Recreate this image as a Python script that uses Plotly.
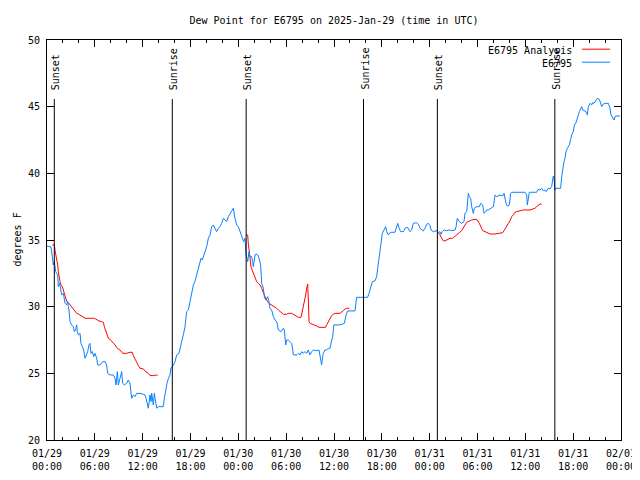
import pandas as pd
import plotly.graph_objects as go

START = pd.Timestamp("2025-01-29 00:00")

# ---- Observed dew point (E6795), hours since 2025-01-29 00:00 UTC ----
blue_hours = [
    0.00, 0.50, 0.67, 0.79, 0.92, 1.09, 1.34, 1.42, 1.59, 1.71, 1.84, 2.05, 2.13, 2.26, 2.47, 2.59, 2.68, 2.76,
    2.89, 3.09, 3.30, 3.43, 3.60, 3.72, 3.80, 3.93, 4.14, 4.26, 4.43, 4.60, 4.77, 4.93, 5.10, 5.27, 5.39, 5.52,
    5.69, 5.85, 6.02, 6.23, 6.36, 6.65, 6.86, 6.98, 7.28, 7.48, 7.61, 7.90, 8.32, 8.53, 8.66, 8.74, 8.82, 8.95,
    9.16, 9.37, 9.49, 9.70, 9.99, 10.20, 10.41, 10.54, 10.62, 10.83, 11.04, 11.25, 11.67, 12.08, 12.29, 12.42,
    12.63, 12.71, 12.92, 13.05, 13.13, 13.34, 13.46, 13.63, 13.76, 13.97, 14.59, 14.72, 14.89,
    15.05, 15.22, 15.43, 15.55, 15.85, 16.06, 16.27, 16.56, 16.68, 16.89, 17.10, 17.31, 17.52, 17.73, 17.94,
    18.15, 18.36, 18.56, 18.77, 18.90, 19.19, 19.32, 19.48, 19.61, 19.82, 20.03, 20.24, 20.45, 20.66, 20.86,
    21.07, 21.28, 21.49, 21.70, 21.91, 22.12, 22.33, 22.54, 22.75, 22.96, 23.17, 23.37, 23.58, 23.79, 24.00,
    24.21, 24.42, 24.54, 24.67, 24.84, 24.92,
    24.96, 25.17, 25.34, 25.46, 25.67, 25.80, 25.88, 26.01, 26.09, 26.22, 26.43, 26.59, 26.80, 26.93, 27.14,
    27.26, 27.43, 27.68, 27.85, 27.97, 28.18, 28.39, 28.60, 28.81, 29.02, 29.35, 29.65, 29.77, 29.85, 29.94,
    30.06, 30.27, 30.48, 30.69, 30.82, 30.90, 31.32, 31.53, 31.74, 31.95, 32.15, 32.36, 32.57, 32.78, 32.99,
    33.20, 33.41, 33.83, 34.12, 34.24, 34.37, 34.45, 34.58, 34.66, 34.87, 35.08, 35.29, 35.50, 35.71, 35.84,
    35.97, 36.34, 36.75, 37.30, 37.51, 37.72, 38.63,
    38.84, 40.22, 40.39, 40.60, 40.81, 41.14, 41.35, 41.48, 41.65, 41.77, 41.90, 42.06, 42.31, 42.48, 42.61,
    42.82, 43.03, 43.24, 43.65, 43.86, 43.99, 44.15, 44.36, 44.70, 44.99, 45.24, 45.53, 45.74, 45.95, 46.37,
    46.58, 46.79, 46.99, 47.20, 47.42, 47.63, 47.83,
    48.04, 48.17, 48.46, 48.88, 49.09, 49.30, 49.42, 49.59, 49.80, 50.13, 50.47, 50.76, 51.18, 51.31, 51.47,
    51.72, 52.01, 52.31, 52.43, 52.64, 52.73, 52.85, 52.98, 53.14, 53.27, 53.48, 53.60, 53.90, 54.23, 54.40,
    54.65, 54.82, 55.03, 55.15, 55.36, 55.78, 55.99, 56.20, 56.41, 56.83, 57.16, 57.33, 57.45, 57.58, 57.74,
    57.99, 58.16, 58.29, 59.96, 60.17, 60.25, 60.38, 60.50, 61.42, 61.63,
    61.84, 62.05, 62.26, 62.47, 62.59, 62.76, 62.89, 63.10, 63.30, 63.43, 63.51, 63.64, 63.72, 63.85, 64.43,
    64.56, 64.68, 64.85, 64.98, 65.10, 65.27, 65.52, 65.69, 65.81, 66.02, 66.15, 66.36, 66.52, 66.65, 66.78,
    66.94, 67.07, 67.19, 67.36, 67.61, 67.78, 67.90, 68.03, 68.11, 68.32, 68.45, 68.61, 68.86, 69.03, 69.29,
    69.45, 69.58, 69.79, 70.00, 70.42, 70.62, 70.75, 70.96, 71.13, 71.25, 71.38, 71.88,
]
blue_dewpoint = [
    34.55, 34.48, 33.75, 33.13, 33.38, 32.63, 32.38, 31.50, 31.75, 31.38, 30.88, 31.00, 30.50, 30.25, 30.13, 30.38, 30.00, 29.75,
    28.88, 28.63, 28.50, 28.13, 28.25, 28.63, 28.13, 27.88, 28.00, 27.25, 27.00, 26.75, 26.13, 26.38, 26.63, 27.13, 27.25, 26.50,
    26.63, 26.25, 26.50, 26.13, 25.63, 25.63, 25.75, 25.88, 25.88, 25.63, 25.00, 24.88, 24.88, 24.63, 24.13, 24.88, 25.13, 24.13,
    24.63, 25.13, 24.25, 24.13, 24.25, 24.50, 24.25, 23.63, 23.13, 23.38, 23.25, 23.50, 23.50, 23.43, 23.38, 23.13,
    22.63, 22.38, 23.38, 22.88, 23.50, 22.63, 23.50, 23.00, 22.38, 22.50, 22.50, 23.13, 23.75,
    24.25, 24.60, 24.90, 25.40, 25.60, 25.88, 26.38, 26.50, 26.75, 27.38, 27.88, 28.50, 29.63, 29.75, 30.38,
    31.13, 31.63, 31.88, 32.38, 32.75, 33.25, 33.63, 33.50, 33.75, 34.25, 34.50, 35.13, 35.38, 36.00, 36.13,
    35.88, 35.63, 35.88, 36.00, 36.25, 36.63, 36.50, 36.38, 36.75, 37.00, 37.25, 37.38, 36.63, 36.13, 36.00,
    35.63, 35.38, 35.00, 34.88, 35.13, 34.00,
    33.88, 33.38, 34.13, 33.75, 33.75, 33.38, 33.00, 33.50, 33.88, 33.95, 33.88, 33.63, 33.13, 31.75, 31.38,
    30.75, 30.50, 30.75, 30.38, 29.88, 29.75, 29.25, 29.00, 28.88, 28.25, 28.13, 28.38, 28.25, 27.75, 27.13,
    27.50, 27.50, 27.38, 27.25, 26.75, 26.38, 26.38, 26.50, 26.38, 26.63, 26.50, 26.63, 26.50, 26.75, 26.38,
    26.63, 26.75, 26.70, 26.75, 26.38, 26.00, 25.63, 26.25, 26.50, 26.75, 26.75, 26.88, 26.88, 27.50, 27.75,
    28.63, 28.63, 28.63, 28.75, 29.38, 29.68, 29.68,
    30.70, 30.70, 31.00, 31.50, 31.88, 31.93, 32.25, 32.88, 33.50, 34.13, 34.75, 35.50, 35.88, 36.00, 35.63,
    35.38, 35.55, 35.58, 35.58, 35.93, 36.25, 35.93, 35.63, 35.63, 35.93, 35.93, 35.63, 35.75, 36.25, 36.30,
    36.18, 35.88, 35.75, 35.68, 35.88, 36.18, 36.25,
    36.08, 35.75, 35.63, 35.70, 35.55, 35.63, 35.43, 35.63, 35.75, 35.70, 35.75, 35.70, 35.75, 36.00, 36.63,
    36.38, 36.25, 36.38, 37.00, 37.13, 37.88, 38.50, 38.25, 38.13, 37.50, 37.00, 37.38, 37.50, 37.50, 37.75,
    37.63, 37.00, 37.13, 37.25, 37.25, 37.38, 37.50, 38.38, 38.25, 38.38, 38.30, 38.50, 38.13, 37.75, 37.55,
    37.63, 38.50, 38.58, 38.58, 38.38, 37.63, 38.25, 38.58, 38.58, 38.80,
    38.75, 38.88, 38.70, 38.75, 38.63, 38.75, 38.88, 38.83, 39.00, 39.50, 39.80, 39.38, 38.75, 38.88, 38.88,
    39.75, 40.38, 40.88, 41.13, 41.63, 41.88, 42.13, 42.55, 42.88, 43.13, 43.63, 43.80, 44.25, 44.38, 44.63,
    44.88, 45.00, 44.75, 44.70, 44.63, 44.38, 45.00, 45.13, 45.25, 45.13, 45.30, 45.25, 45.55, 45.63, 45.55,
    45.13, 45.00, 45.20, 45.25, 45.25, 44.88, 44.38, 44.13, 44.00, 44.25, 44.30, 44.30,
]

# ---- Analysis dew point (E6795 Analysis), three separate runs ----
red_hours_1 = [0.67, 0.92, 1.00, 1.13, 1.21, 1.34, 1.42, 1.51, 1.63, 1.76, 1.92, 2.05, 2.17, 2.34, 2.47, 2.68,
               2.89, 3.09, 3.30, 3.51, 3.72, 3.93, 4.26, 4.56, 4.77, 5.94, 6.23, 6.52, 6.86, 7.07, 7.19, 7.36,
               7.48, 7.69, 7.90, 8.11, 8.32, 8.53, 8.74, 9.03, 9.28, 9.49, 9.99, 10.41, 10.70, 10.83, 11.04,
               11.25, 11.46, 11.67, 12.08, 12.29, 12.71, 12.92, 13.34, 13.55, 13.76, 13.88]
red_dewpoint_1 = [34.63, 34.63, 34.25, 33.88, 33.50, 33.13, 32.63, 32.25, 31.88, 31.63, 31.50, 31.25, 31.00,
                  30.63, 30.38, 30.30, 30.13, 30.00, 29.83, 29.63, 29.50, 29.45, 29.30, 29.18, 29.13, 29.13,
                  29.00, 28.93, 28.88, 28.83, 28.50, 28.25, 28.00, 27.63, 27.55, 27.43, 27.25, 27.13, 26.93,
                  26.83, 26.68, 26.50, 26.50, 26.58, 26.58, 26.33, 26.13, 25.83, 25.58, 25.38, 25.33, 25.18,
                  25.00, 24.83, 24.83, 24.88, 24.88, 24.83]
red_hours_2 = [24.96, 25.17, 25.25, 25.34, 25.38, 25.46, 25.59, 25.76, 25.88, 26.09, 26.30, 26.51, 26.72, 26.93,
               27.14, 27.26, 27.43, 27.56, 27.76, 27.97, 28.18, 28.39, 28.60, 28.81, 29.02, 29.23, 29.44, 29.65,
               30.06, 30.27, 30.69, 30.90, 31.11, 31.53, 31.86, 32.03, 32.15, 32.28, 32.45, 32.57, 32.70, 32.78,
               32.87, 32.99, 33.20, 33.62, 33.83, 34.12, 34.95, 35.08, 35.29, 35.50, 35.71, 35.92, 36.13, 36.75,
               36.96, 37.17, 37.38, 37.59, 37.93]
red_dewpoint_2 = [35.38, 35.38, 34.75, 34.13, 34.00, 33.25, 33.00, 32.70, 32.50, 32.25, 31.88, 31.75, 31.63,
                  31.38, 31.13, 30.88, 30.63, 30.50, 30.30, 30.20, 30.13, 30.00, 29.95, 29.88, 29.75, 29.63,
                  29.50, 29.43, 29.43, 29.50, 29.50, 29.43, 29.33, 29.20, 29.20, 29.63, 30.00, 30.50, 30.88,
                  31.38, 31.70, 30.50, 28.88, 28.75, 28.70, 28.63, 28.55, 28.45, 28.45, 28.63, 28.88, 29.13,
                  29.33, 29.43, 29.50, 29.50, 29.58, 29.70, 29.83, 29.88, 29.88]
red_hours_3 = [48.88, 49.09, 49.30, 49.51, 49.72, 49.92, 50.13, 50.34, 50.55, 50.89, 51.18, 51.39, 51.72, 52.01,
               52.22, 52.43, 52.64, 52.85, 53.06, 53.27, 53.69, 53.98, 54.23, 54.44, 54.65, 54.94, 55.23, 55.57,
               56.20, 56.83, 57.16, 57.33, 57.58, 57.87, 58.08, 58.29, 58.50, 58.71, 58.92, 59.33, 59.75, 60.59,
               61.00, 61.21, 61.42, 61.63, 61.84, 62.05]
red_dewpoint_3 = [35.70, 35.55, 35.38, 35.13, 34.93, 34.93, 35.00, 35.05, 35.13, 35.13, 35.30, 35.43, 35.55,
                  35.70, 35.88, 36.13, 36.33, 36.38, 36.45, 36.50, 36.55, 36.50, 36.25, 35.93, 35.70, 35.63,
                  35.55, 35.45, 35.45, 35.55, 35.55, 35.70, 36.00, 36.25, 36.45, 36.75, 36.88, 37.08, 37.13,
                  37.18, 37.25, 37.25, 37.30, 37.38, 37.50, 37.63, 37.70, 37.68]

# ---- Sun events ----
event_times = ["2025-01-29 00:55", "2025-01-29 15:43", "2025-01-30 00:59",
               "2025-01-30 15:42", "2025-01-31 00:58", "2025-01-31 15:42"]
event_labels = ["Sunset", "Sunrise", "Sunset", "Sunrise", "Sunset", "Sunrise"]

# ---- Axis ticks ----
tick_times = ["2025-01-29 00:00", "2025-01-29 06:00", "2025-01-29 12:00", "2025-01-29 18:00",
              "2025-01-30 00:00", "2025-01-30 06:00", "2025-01-30 12:00", "2025-01-30 18:00",
              "2025-01-31 00:00", "2025-01-31 06:00", "2025-01-31 12:00", "2025-01-31 18:00",
              "2025-02-01 00:00"]
tick_labels = ["01/29<br>00:00", "01/29<br>06:00", "01/29<br>12:00", "01/29<br>18:00",
               "01/30<br>00:00", "01/30<br>06:00", "01/30<br>12:00", "01/30<br>18:00",
               "01/31<br>00:00", "01/31<br>06:00", "01/31<br>12:00", "01/31<br>18:00",
               "02/01<br>00:00"]
y_ticks = [20, 25, 30, 35, 40, 45, 50]

series_names = ["E6795 Analysis", "E6795"]
series_colors = ["#ff0000", "#0a80ff"]


def to_time(hours):
    return START + pd.to_timedelta(pd.Series(hours), unit="h")


FONT = "DejaVu Sans Mono"
# the page body adds an 8px offset; plot area lands at x 47..621, y 40..440 on screen
fig = go.Figure()

red_x = []
red_y = []
for hh, vv in [(red_hours_1, red_dewpoint_1), (red_hours_2, red_dewpoint_2), (red_hours_3, red_dewpoint_3)]:
    red_x += list(to_time(hh)) + [None]
    red_y += list(vv) + [None]

fig.add_trace(go.Scatter(x=red_x, y=red_y, mode="lines", name=series_names[0],
                         line=dict(color=series_colors[0], width=1), connectgaps=False))
fig.add_trace(go.Scatter(x=list(to_time(blue_hours)), y=blue_dewpoint, mode="lines", name=series_names[1],
                         line=dict(color=series_colors[1], width=1)))

shapes = []
annotations = []
for t, lab in zip(event_times, event_labels):
    shapes.append(dict(type="line", xref="x", yref="paper", x0=t, x1=t, y0=0, y1=0.8525,
                       line=dict(color="black", width=1)))
    annotations.append(dict(x=t, xref="x", y=0.87, yref="paper", text=lab, textangle=-90,
                            showarrow=False, xanchor="center", yanchor="bottom",
                            xshift=1, font=dict(family=FONT, size=10, color="black")))

# gnuplot-style legend (text right, sample line at right)
leg_y = [0.975, 0.9425]
for name, col, yy in zip(series_names, series_colors, leg_y):
    annotations.append(dict(x=0.918, xref="paper", y=yy, yref="paper", text=name, showarrow=False,
                            xanchor="right", yanchor="middle", font=dict(family=FONT, size=10, color="black")))
    shapes.append(dict(type="line", xref="paper", yref="paper", x0=0.932, x1=0.981, y0=yy + 0.002,
                       y1=yy + 0.002, line=dict(color=col, width=1)))

annotations.append(dict(x=-39 / 574, xref="paper", y=0.5, yref="paper", text="degrees F", textangle=-90,
                        showarrow=False, xanchor="left", yanchor="middle", xshift=1,
                        font=dict(family=FONT, size=10, color="black")))

fig.update_layout(
    width=640, height=480,
    margin=dict(l=39, r=27, t=32, b=48, autoexpand=False),
    paper_bgcolor="white", plot_bgcolor="white",
    showlegend=False,
    font=dict(family=FONT, size=10, color="black"),
    title=dict(text="Dew Point for E6795 on 2025-Jan-29 (time in UTC)", x=0.5, xref="paper",
               y=1 - 12 / 480, yref="container", xanchor="center", yanchor="middle",
               font=dict(family=FONT, size=10, color="black")),
    shapes=shapes,
    annotations=annotations,
)
fig.update_xaxes(type="date", range=[tick_times[0], tick_times[-1]], automargin=False,
                 tickmode="array", tickvals=tick_times, ticktext=tick_labels,
                 ticks="inside", ticklen=7, tickcolor="black", tickwidth=1,
                 minor=dict(tickmode="linear", tick0=tick_times[0], dtick=2 * 3600 * 1000,
                            ticks="inside", ticklen=3, tickcolor="black", showgrid=False),
                 showline=True, linecolor="black", linewidth=1, mirror="allticks",
                 showgrid=False, zeroline=False, ticklabelstandoff=4,
                 tickfont=dict(family=FONT, size=10, color="black"))
fig.update_yaxes(range=[20, 50], tickmode="array", tickvals=y_ticks, automargin=False,
                 ticks="inside", ticklen=7, tickcolor="black", tickwidth=1,
                 showline=True, linecolor="black", linewidth=1, mirror="allticks",
                 showgrid=False, zeroline=False, ticklabelstandoff=4,
                 tickfont=dict(family=FONT, size=10, color="black"))

fig.write_html("out.html")
